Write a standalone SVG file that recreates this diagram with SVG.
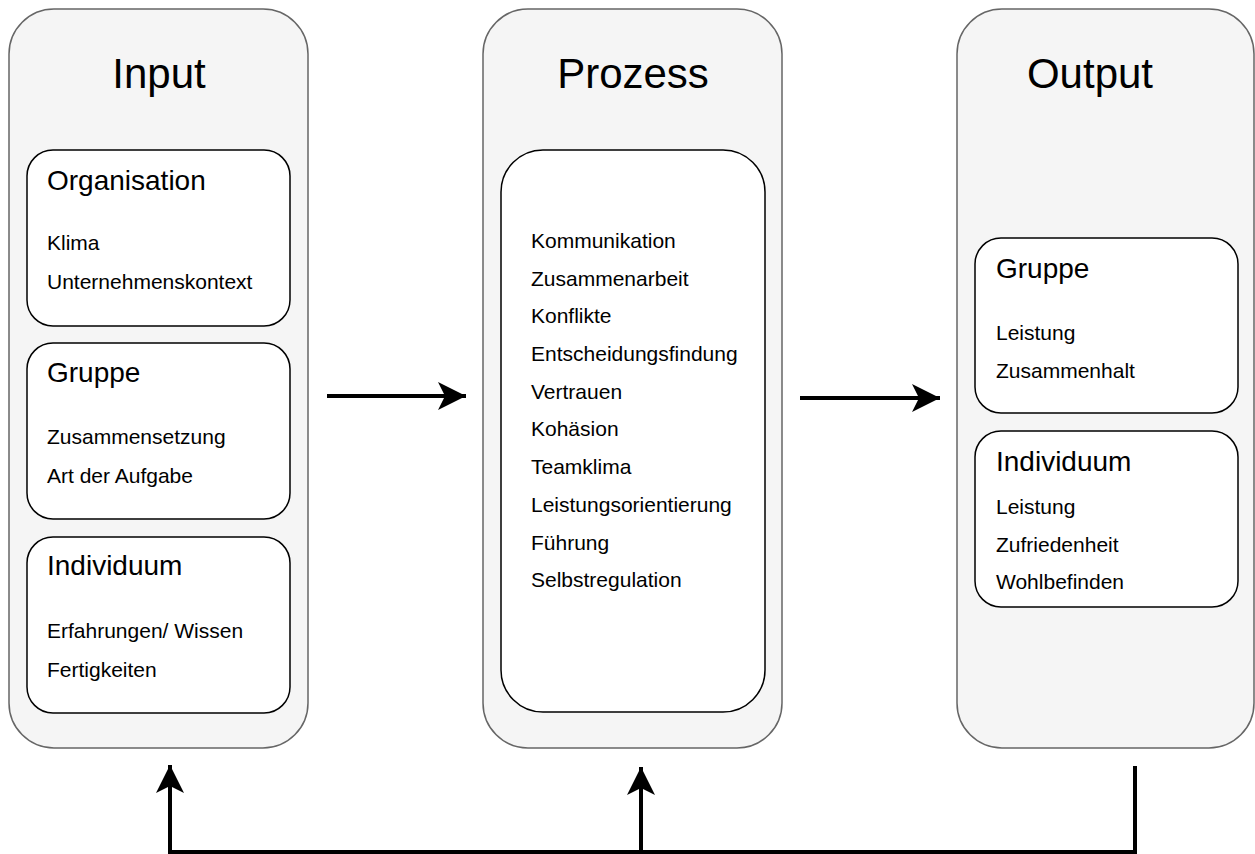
<svg xmlns="http://www.w3.org/2000/svg" width="1255" height="854" viewBox="0 0 1255 854">
<defs>
<style>
.outer{fill:#f5f5f5;stroke:#666666;stroke-width:1.5}
.inner{fill:#ffffff;stroke:#000000;stroke-width:1.5}
.title{font-family:"Liberation Sans",Arial,sans-serif;font-size:42px;fill:#000;text-anchor:middle}
.head{font-family:"Liberation Sans",Arial,sans-serif;font-size:28px;fill:#000}
.item{font-family:"Liberation Sans",Arial,sans-serif;font-size:21px;fill:#000}
.conn{fill:none;stroke:#000;stroke-width:4}
</style>
<marker id="arr" markerUnits="userSpaceOnUse" markerWidth="32" markerHeight="32" viewBox="0 0 32 32" refX="28" refY="16" orient="auto">
<path d="M0,2 L28,16 L0,30 L7,16 Z" fill="#000"/>
</marker>
</defs>
<g id="input">
<rect class="outer" x="9" y="9" width="299" height="739" rx="45" ry="45"/>
<text class="title" x="159" y="88">Input</text>
</g>
<g id="input-organisation">
<rect class="inner" x="27" y="150" width="263" height="176" rx="26" ry="26"/>
<text class="head" x="47" y="190">Organisation</text>
<text class="item" x="47" y="250">Klima</text>
<text class="item" x="47" y="289">Unternehmenskontext</text>
</g>
<g id="input-gruppe">
<rect class="inner" x="27" y="343" width="263" height="176" rx="26" ry="26"/>
<text class="head" x="47" y="382">Gruppe</text>
<text class="item" x="47" y="444">Zusammensetzung</text>
<text class="item" x="47" y="483">Art der Aufgabe</text>
</g>
<g id="input-individuum">
<rect class="inner" x="27" y="537" width="263" height="176" rx="26" ry="26"/>
<text class="head" x="47" y="575">Individuum</text>
<text class="item" x="47" y="638">Erfahrungen/ Wissen</text>
<text class="item" x="47" y="677">Fertigkeiten</text>
</g>
<g id="prozess">
<rect class="outer" x="483" y="9" width="299" height="739" rx="45" ry="45"/>
<text class="title" x="633" y="88">Prozess</text>
</g>
<g id="prozess-inhalt">
<rect class="inner" x="501" y="150" width="264" height="562" rx="42" ry="42"/>
<text class="item" x="531" y="248">Kommunikation</text>
<text class="item" x="531" y="286">Zusammenarbeit</text>
<text class="item" x="531" y="323">Konflikte</text>
<text class="item" x="531" y="361">Entscheidungsfindung</text>
<text class="item" x="531" y="399">Vertrauen</text>
<text class="item" x="531" y="436">Kohäsion</text>
<text class="item" x="531" y="474">Teamklima</text>
<text class="item" x="531" y="512">Leistungsorientierung</text>
<text class="item" x="531" y="550">Führung</text>
<text class="item" x="531" y="587">Selbstregulation</text>
</g>
<g id="output">
<rect class="outer" x="957" y="9" width="297" height="739" rx="45" ry="45"/>
<text class="title" x="1090" y="88">Output</text>
</g>
<g id="output-gruppe">
<rect class="inner" x="975" y="238" width="263" height="175" rx="26" ry="26"/>
<text class="head" x="996" y="278">Gruppe</text>
<text class="item" x="996" y="340">Leistung</text>
<text class="item" x="996" y="378">Zusammenhalt</text>
</g>
<g id="output-individuum">
<rect class="inner" x="975" y="431" width="263" height="176" rx="26" ry="26"/>
<text class="head" x="996" y="471">Individuum</text>
<text class="item" x="996" y="514">Leistung</text>
<text class="item" x="996" y="552">Zufriedenheit</text>
<text class="item" x="996" y="589">Wohlbefinden</text>
</g>
<g id="connectors">
<line class="conn" x1="327" y1="396" x2="466" y2="396" marker-end="url(#arr)"/>
<line class="conn" x1="800" y1="398" x2="940" y2="398" marker-end="url(#arr)"/>
<polyline class="conn" points="1135,766 1135,852 170,852 170,765" marker-end="url(#arr)"/>
<line class="conn" x1="641" y1="852" x2="641" y2="767" marker-end="url(#arr)"/>
</g>
</svg>
